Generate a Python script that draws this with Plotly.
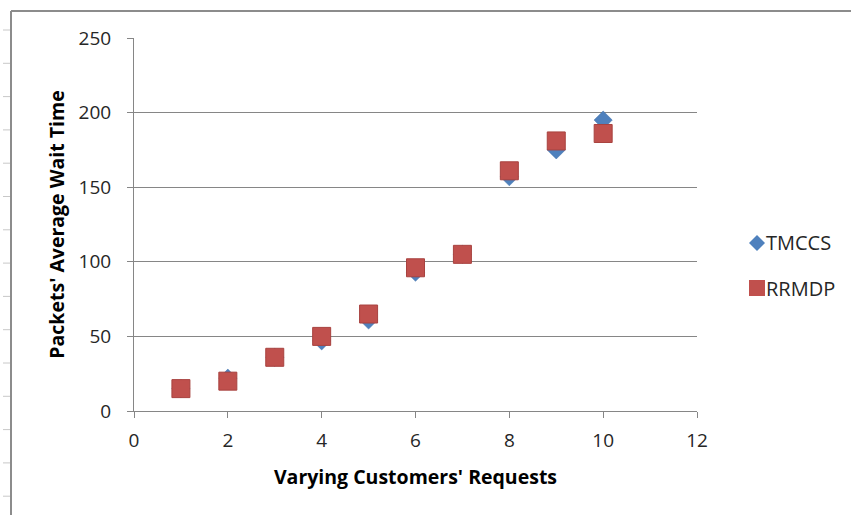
import plotly.graph_objects as go

# Number of customer requests
requests = [1, 2, 3, 4, 5, 6, 7, 8, 9, 10]

# Average packet waiting time per scheme
tmccs = [15, 22, 36, 47, 61, 93, 105, 157, 175, 195]
rrmdp = [15, 20, 36, 50, 65, 96, 105, 161, 181, 186]

series_names = ["TMCCS", "RRMDP"]

x_ticks = [0, 2, 4, 6, 8, 10, 12]
y_ticks = [0, 50, 100, 150, 200, 250]

BLUE = "#4F81BD"
RED = "#C0504D"
FONT = "'Open Sans', Lato, sans-serif"

L, R, T, B = 134, 154, 38, 104
W, H = 851, 515
pw, ph = W - L - R, H - T - B


def px(xp):
    return (xp - L) / pw


def py(yp):
    return (H - B - yp) / ph


fig = go.Figure()

fig.add_trace(go.Scatter(
    x=requests, y=tmccs, mode="markers", name=series_names[0],
    showlegend=False,
    marker=dict(symbol="diamond", size=14, color=BLUE,
                line=dict(width=0.5, color="#3F6FA8")),
))
fig.add_trace(go.Scatter(
    x=requests, y=rrmdp, mode="markers", name=series_names[1],
    showlegend=False,
    marker=dict(symbol="square", size=18, color=RED,
                line=dict(width=1, color="#A8423F")),
))

shapes = [
    # outer frame, top and left edges
    dict(type="line", xref="paper", yref="paper",
         x0=px(11), x1=px(851), y0=py(11), y1=py(11),
         line=dict(color="#8C8C8C", width=2)),
    dict(type="line", xref="paper", yref="paper",
         x0=px(11), x1=px(11), y0=py(11), y1=py(515),
         line=dict(color="#8C8C8C", width=2)),
]
# faint ruler marks along the left margin
yy = 30
while yy < 515:
    shapes.append(dict(type="line", xref="paper", yref="paper",
                       x0=px(3), x1=px(10), y0=py(yy), y1=py(yy),
                       line=dict(color="#C8C8C8", width=1)))
    yy += 33.3

# legend keys: a diamond and a square drawn at fixed pixel size
legend_rows = [(243, "M 0 8 L 8 0 L 0 -8 L -8 0 Z", BLUE),
               (288, "M -8 -8 L 8 -8 L 8 8 L -8 8 Z", RED)]
annotations = []
for (row_y, path, col), name in zip(legend_rows, series_names):
    shapes.append(dict(type="path", xref="paper", yref="paper",
                       xsizemode="pixel", ysizemode="pixel",
                       xanchor=px(757), yanchor=py(row_y),
                       path=path, fillcolor=col, line=dict(width=0)))
    annotations.append(dict(xref="paper", yref="paper",
                            x=px(764), y=py(row_y),
                            xanchor="left", yanchor="middle",
                            text=name, showarrow=False,
                            font=dict(family=FONT, size=20, color="#262626")))

fig.update_layout(
    width=W, height=H,
    margin=dict(l=L, r=R, t=T, b=B),
    paper_bgcolor="white", plot_bgcolor="white",
    font=dict(family=FONT, size=19, color="#262626"),
    shapes=shapes,
    annotations=annotations,
    showlegend=False,
    xaxis=dict(
        range=[0, 12], tickvals=x_ticks, ticktext=[str(v) for v in x_ticks],
        showgrid=False, zeroline=False,
        showline=True, linecolor="#868686", linewidth=1,
        ticks="outside", ticklen=6, tickcolor="#868686",
        ticklabelstandoff=6,
        tickfont=dict(size=19, color="#262626"),
        title=dict(text="<b>Varying Customers' Requests</b>",
                   font=dict(size=19.5, color="#000000"), standoff=18),
    ),
    yaxis=dict(
        range=[0, 250], tickvals=y_ticks, ticktext=[str(v) for v in y_ticks],
        showgrid=True, gridcolor="#868686", gridwidth=1,
        zeroline=False,
        showline=True, linecolor="#868686", linewidth=1,
        ticks="outside", ticklen=6, tickcolor="#868686",
        ticklabelstandoff=12,
        tickfont=dict(size=19, color="#262626"),
        title=dict(text="<b>Packets' Average Wait Time</b>",
                   font=dict(size=19.5, color="#000000"), standoff=8),
    ),
)

fig.write_html("out.html")
